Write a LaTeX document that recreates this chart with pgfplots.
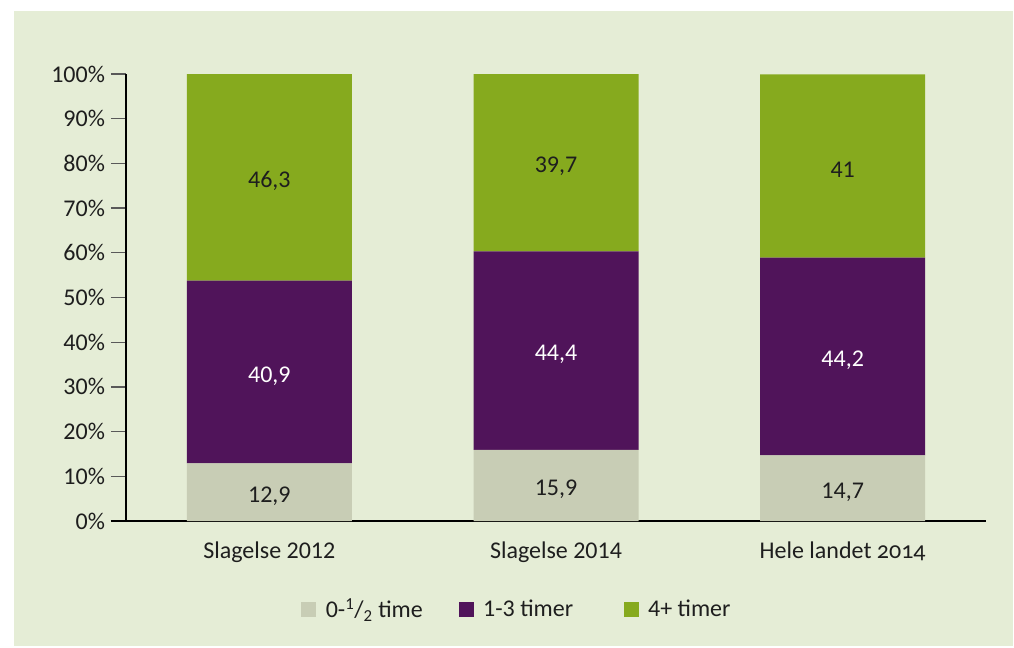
\documentclass[border=0pt]{standalone}
\usepackage{pgfplots}
\pgfplotsset{compat=1.18}
\usepackage{fontspec}
\setmainfont{Carlito}
\definecolor{panel}{RGB}{229,237,214}
\definecolor{cgrey}{RGB}{200,205,181}
\definecolor{cpurple}{RGB}{80,20,90}
\definecolor{cgreen}{RGB}{134,170,30}
\definecolor{txt}{RGB}{30,30,30}
\newcommand{\fs}{\fontsize{18}{21}\selectfont}
\begin{document}
\begin{tikzpicture}
\useasboundingbox (-94.5pt,390.75pt) rectangle (666pt,-94.5pt);
\fill[white] (-94.5pt,390.75pt) rectangle (666pt,-94.5pt);
\fill[panel] (-84pt,382.5pt) rectangle (665.25pt,-93.75pt);
\pgfplotsset{
  common/.style={
    scale only axis, width=645pt, height=335.25pt,
    xmin=-0.5, xmax=2.5, ymin=0, ymax=100,
    at={(0,0)}, anchor=south west,
  }
}
\begin{axis}[common,
  ybar stacked, bar width=123.75pt,
  axis lines=left,
  axis line style={-, line width=1.1pt, black},
  x axis line style={shorten <=-11.25pt},
  xtick=data, xticklabels={Slagelse 2012, Slagelse 2014, {Hele landet {\addfontfeature{Numbers=OldStyle}2014}}},
  x tick style={draw=none},
  ytick={0,10,...,100},
  yticklabel={\pgfmathprintnumber{\tick}\%},
  y tick style={line width=1pt, black!65},
  tick align=outside, major tick length=11.25pt,
  /pgf/number format/assume math mode=true,
  ticklabel style={font=\fs, text=txt},
  xticklabel style={yshift=-1pt},
  yticklabel style={xshift=-1pt},
  legend style={at={(0.455,-0.197)}, anchor=center, draw=none, fill=none,
    font=\fs, text=txt, legend columns=3,
    /tikz/every odd column/.append style={column sep=5pt},
    /tikz/column 2/.style={column sep=25pt},
    /tikz/column 4/.style={column sep=36pt}},
  legend image code/.code={\fill[#1] (0pt,-5.625pt) rectangle (11.25pt,5.625pt);},
]
\addplot[fill=cgrey, draw=none] coordinates {(0,12.9) (1,15.9) (2,14.7)};
\addplot[fill=cpurple, draw=none] coordinates {(0,40.9) (1,44.4) (2,44.2)};
\addplot[fill=cgreen, draw=none] coordinates {(0,46.3) (1,39.7) (2,41)};
\legend{0-\textsuperscript{1}/\textsubscript{2} time, 1-3 timer, 4+ timer}
\end{axis}
\begin{axis}[common, hide axis]
\addplot[draw=none, mark=none, nodes near coords, nodes near coords align=center,
  point meta=explicit symbolic, every node near coord/.append style={font=\fs, text=txt, yshift=-3pt}]
  coordinates {(0,6.45)[12,9] (1,7.95)[15,9] (2,7.35)[14,7] (0,76.95)[46,3] (1,80.225)[39,7] (2,79.4)[41]};
\addplot[draw=none, mark=none, nodes near coords, nodes near coords align=center,
  point meta=explicit symbolic, every node near coord/.append style={font=\fs, text=white, yshift=-3pt}]
  coordinates {(0,33.35)[40,9] (1,38.1)[44,4] (2,36.8)[44,2]};
\end{axis}
\end{tikzpicture}
\end{document}
